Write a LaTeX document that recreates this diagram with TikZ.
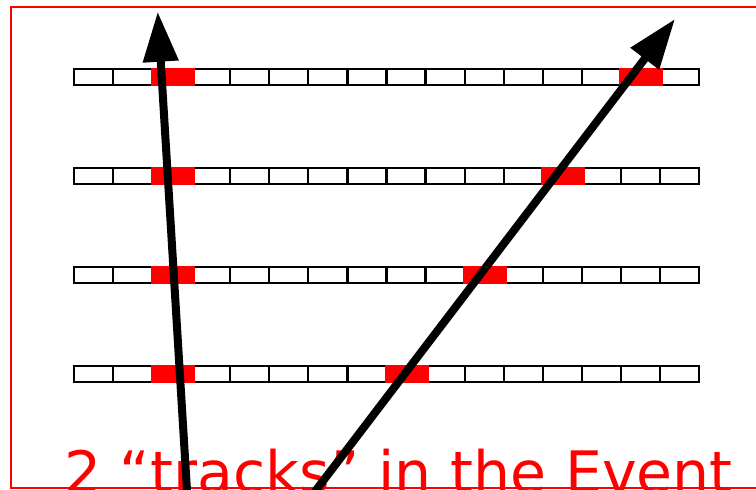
\documentclass[tikz,border=0pt]{standalone}
\usepackage{fontspec}
\newfontfamily\labelfont{DejaVu Sans}
\usetikzlibrary{arrows.meta}
\begin{document}
\begin{tikzpicture}[x=1pt,y=-1pt,
  cell/.style={draw=black,line width=2.2pt,fill=white},
  hit/.style={fill=red},
  track/.style={draw=black,line width=8pt,-{Triangle[length=50pt,width=34pt]}},
  frame/.style={draw=red,line width=2pt},
  caption/.style={anchor=base west,text=red,inner sep=0pt,font=\labelfont\fontsize{58.5}{60}\selectfont}]
\useasboundingbox (0,0) rectangle (756,490);
\draw[frame] (10.5,7) rectangle (790,487.5);
\foreach \r in {0,...,3} {
  \pgfmathsetmacro\yc{76.8+99*\r}
  \pgfmathtruncatemacro\hk{14-2*\r}
  \foreach \k in {0,...,15}
    \draw[cell] ({74+39.0625*\k},{\yc-8}) rectangle ++(39.0625,16);
  \foreach \k in {2,\hk}
    \fill[hit] ({74+39.0625*\k-1.5},{\yc-9.1}) rectangle ++(44,18.2);
}
\node[caption] (cap) at (64,493) {2 “tracks” in the Event};
\coordinate (a0) at (188.2,510);
\coordinate (a1) at (157.7,11.7);
\coordinate (b0) at (300.9,510);
\coordinate (b1) at (675,19);
\draw[track] (a0) -- (a1);
\draw[track] (b0) -- (b1);
\end{tikzpicture}
\end{document}
